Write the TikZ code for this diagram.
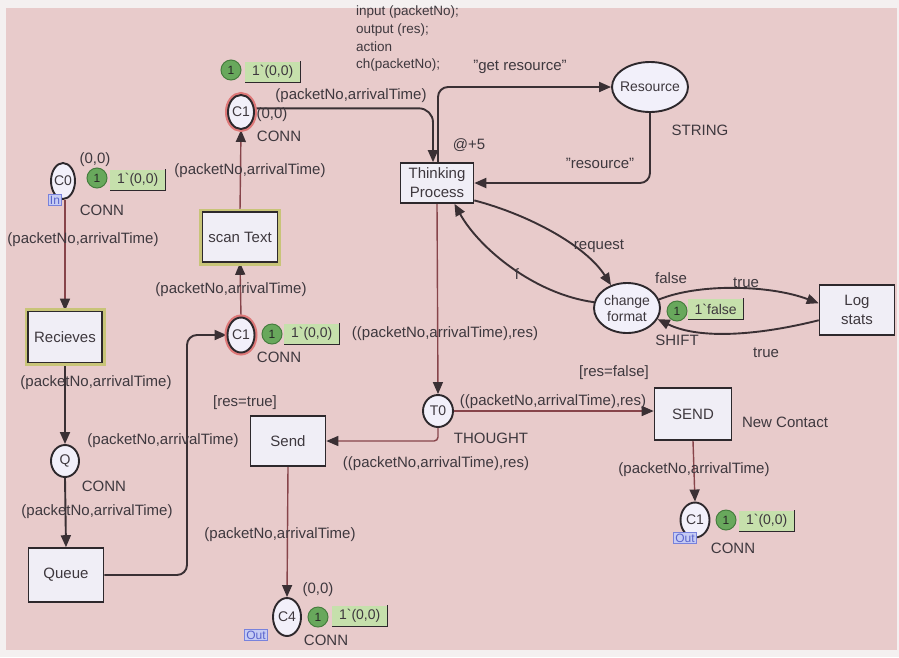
\documentclass[tikz,border=0pt]{standalone}
\usepackage{fontspec}
\setmainfont{Liberation Sans}
\usetikzlibrary{shapes.geometric,arrows.meta,calc}
\pgfdeclarelayer{paper}
\pgfdeclarelayer{wires}
\pgfsetlayers{paper,wires,main}

\definecolor{paperpink}{RGB}{232,203,203}
\definecolor{paperedge}{RGB}{244,240,240}
\definecolor{ink}{RGB}{62,56,62}
\definecolor{nodeline}{RGB}{45,40,44}
\definecolor{placefill}{RGB}{242,240,250}
\definecolor{transfill}{RGB}{240,238,246}
\definecolor{arcred}{RGB}{135,68,74}
\definecolor{arcdark}{RGB}{58,48,52}
\definecolor{tokgreen}{RGB}{104,168,92}
\definecolor{tokedge}{RGB}{70,125,62}
\definecolor{markfill}{RGB}{198,224,172}
\definecolor{glowyel}{RGB}{200,196,120}
\definecolor{glowred}{RGB}{222,120,120}
\definecolor{tagfill}{RGB}{198,204,244}
\definecolor{tagedge}{RGB}{120,130,220}
\definecolor{tagtext}{RGB}{90,100,205}

\tikzset{
  lbl/.style={font=\fontsize{15}{17}\selectfont, text=ink, inner sep=0pt},
  placetxt/.style={font=\fontsize{14}{16}\selectfont, text=ink, inner sep=0pt, align=center},
  place/.style={ellipse, draw=nodeline, line width=1.9pt, fill=placefill,
    inner sep=0pt, label={[placetxt]center:#1}},
  trans/.style={rectangle, draw=nodeline, line width=1.6pt, fill=transfill,
    minimum width=75pt, minimum height=50pt, inner sep=0pt, align=center,
    font=\fontsize{15}{19}\selectfont, text=ink},
  glowy/.style={preaction={draw=glowyel, line width=7pt}},
  glowr/.style={preaction={draw=glowred, line width=6pt}},
  tok/.style={circle, fill=tokgreen, draw=tokedge, line width=1pt,
    minimum size=20pt, inner sep=0pt, font=\fontsize{12}{13}\selectfont, text=black!85},
  markbox/.style={fill=markfill, anchor=west, minimum width=55pt, minimum height=21pt,
    inner sep=1pt, font=\fontsize{14}{15}\selectfont, text=ink},
  markedge/.style={draw=nodeline, line width=1.3pt},
  tag/.style={rectangle, fill=tagfill, draw=tagedge, line width=1pt, inner sep=1.5pt,
    font=\fontsize{12}{13}\selectfont, text=tagtext},
  arcd/.style={draw=arcdark, line width=1.9pt, -{Triangle[length=12pt,width=10pt]}},
  arcr/.style={draw=arcred, line width=1.4pt, -{Triangle[length=12pt,width=10pt,color=arcdark]}},
}

\begin{document}
\begin{tikzpicture}[x=1pt,y=-1pt]
\useasboundingbox (0,0) rectangle (899,657);
\begin{pgfonlayer}{paper}
  \fill[paperedge] (0,0) rectangle (899,657);
  \fill[paperpink] (6,8) rectangle (897,650);
\end{pgfonlayer}

% places
\node[place={C0}, minimum width=24pt, minimum height=36pt] (C0) at (63,181) {};
\node[place={C1}, glowr, minimum width=26pt, minimum height=34pt] (C1t) at (241,112) {};
\node[place={C1}, glowr, minimum width=27pt, minimum height=35pt] (C1m) at (241,335) {};
\node[place={Q}, minimum width=28pt, minimum height=32pt] (Q) at (65,461) {};
\node[place={T0}, minimum width=30pt, minimum height=32pt] (T0) at (438,411) {};
\node[place={C4}, minimum width=28pt, minimum height=38pt] (C4) at (287,617) {};
\node[place={C1}, minimum width=29pt, minimum height=35pt] (C1o) at (695,520) {};
\node[place={Resource}, minimum width=76pt, minimum height=50pt] (Res) at (650,87) {};
\node[place={change\\format}, minimum width=66pt, minimum height=50pt] (cf) at (627,308) {};

% transitions
\node[trans, glowy] (scan) at (240,237) {scan Text};
\node[trans, glowy, minimum width=74pt, minimum height=51pt] (Rec) at (65,337) {Recieves};
\node[trans, minimum height=54pt] (Queue) at (66,575) {Queue};
\node[trans] (Send) at (288,441) {Send};
\node[trans, minimum width=77pt, minimum height=52pt] (SEND) at (693,414) {SEND};
\node[trans, minimum width=73pt, minimum height=40pt] (Think) at (437,183) {Thinking\\Process};
\node[trans] (Log) at (857,310) {Log\\stats};

\coordinate (qx) at (187,575);

% arcs
\begin{pgfonlayer}{wires}
  \draw[arcr] (Rec.north |- C0.south) -- (Rec.north);
  \draw[arcd] (Rec.south) -- (Q.north);
  \draw[arcd] (Q.south) -- (Queue.north);
  \draw[arcd, rounded corners=10pt] (Queue.east) -- (qx) |- (C1m.west);
  \draw[arcr] (C1m.north) -- (scan.south);
  \draw[arcr] (scan.north) -- (C1t.south);
  \draw[arcd, rounded corners=14pt] (C1t.15) -| ([xshift=-4pt]Think.north);
  \draw[arcd, rounded corners=10pt] ([xshift=1pt]Think.north) |- (Res.west);
  \draw[arcd, rounded corners=10pt] (Res.south) |- (Think.east);
  \draw[arcd] (Think.-25) .. controls (530,215) and (586,246) .. (cf.125);
  \draw[arcd] (cf.170) .. controls (534,294) and (479,248) .. (Think.-50);
  \draw[arcd] (cf.15) .. controls (700,283) and (770,285) .. (Log.170);
  \draw[arcd] (Log.-165) .. controls (760,335) and (700,340) .. (cf.-20);
  \draw[arcr] (Think.south) -- (T0.north);
  \draw[arcr, rounded corners=4pt] (T0.south) |- (Send.east);
  \draw[arcr] (T0.east) -- (T0.east -| SEND.west);
  \draw[arcr] (SEND.south) -- (C1o.north);
  \draw[arcr] (Send.south) -- (C4.north);
\end{pgfonlayer}

% tokens and markings
\node[tok] (k0) at (97,178) {1};
\node[markbox] (m0) at (110,180) {1\textasciigrave(0,0)};
\node[tok] (k1) at (231,70) {1};
\node[markbox] (m1) at (245,72) {1\textasciigrave(0,0)};
\node[tok] (k2) at (272,334) {1};
\node[markbox] (m2) at (284,334) {1\textasciigrave(0,0)};
\node[tok] (k3) at (726,520) {1};
\node[markbox] (m3) at (739,521) {1\textasciigrave(0,0)};
\node[tok] (k4) at (318,617) {1};
\node[markbox] (m4) at (332,616) {1\textasciigrave(0,0)};
\node[tok] (k5) at (677,311) {1};
\node[markbox] (m5) at (688,309) {1\textasciigrave false};
\foreach \m in {m0,m1,m2,m3,m4,m5}
  \draw[markedge] (\m.north east) -- (\m.south east) -- (\m.south west);

% port tags
\node[tag] (inC0) at (55,200) {In};
\node[tag] (outC1) at (685,538) {Out};
\node[tag] (outC4) at (256,635) {Out};

% inscriptions
\node[lbl, anchor=north west, align=left, font=\fontsize{13.5}{17.6}\selectfont]
  (code) at (356,6) {input (packetNo);\\output (res);\\action\\ch(packetNo);};
\node[lbl] (t01) at (520,67) {"get resource"};
\node[lbl] (t02) at (469,145) {@+5};
\node[lbl] (t03) at (700,130) {STRING};
\node[lbl] (t04) at (600,163) {"resource"};
\node[lbl] (t05) at (599,246) {request};
\node[lbl] (t06) at (517,274) {f};
\node[lbl] (t07) at (671,278) {false};
\node[lbl] (t08) at (746,283) {true};
\node[lbl] (t09) at (677,340) {SHIFT};
\node[lbl] (t10) at (766,353) {true};

\node[lbl] (t11) at (95,160) {(0,0)};
\node[lbl] (t12) at (102,210) {CONN};
\node[lbl] (t13) at (83,240) {(packetNo,arrivalTime)};
\node[lbl] (t14) at (96,383) {(packetNo,arrivalTime)};
\node[lbl] (t15) at (163,441) {(packetNo,arrivalTime)};
\node[lbl] (t16) at (104,486) {CONN};
\node[lbl] (t17) at (97,512) {(packetNo,arrivalTime)};

\node[lbl] (t18) at (272,115) {(0,0)};
\node[lbl] (t19) at (279,136) {CONN};
\node[lbl] (t20) at (351,96) {(packetNo,arrivalTime)};
\node[lbl] (t21) at (250,171) {(packetNo,arrivalTime)};
\node[lbl] (t22) at (231,290) {(packetNo,arrivalTime)};
\node[lbl] (t23) at (279,357) {CONN};
\node[lbl] (t24) at (445,334) {((packetNo,arrivalTime),res)};

\node[lbl] (t25) at (245,403) {[res=true]};
\node[lbl] (t26) at (553,402) {((packetNo,arrivalTime),res)};
\node[lbl] (t27) at (491,438) {THOUGHT};
\node[lbl] (t28) at (436,464) {((packetNo,arrivalTime),res)};
\node[lbl] (t29) at (280,535) {(packetNo,arrivalTime)};
\node[lbl] (t30) at (318,590) {(0,0)};
\node[lbl] (t31) at (326,640) {CONN};

\node[lbl] (t32) at (614,373) {[res=false]};
\node[lbl] (t33) at (785,422) {New Contact};
\node[lbl] (t34) at (694,470) {(packetNo,arrivalTime)};
\node[lbl] (t35) at (733,548) {CONN};
\end{tikzpicture}
\end{document}
